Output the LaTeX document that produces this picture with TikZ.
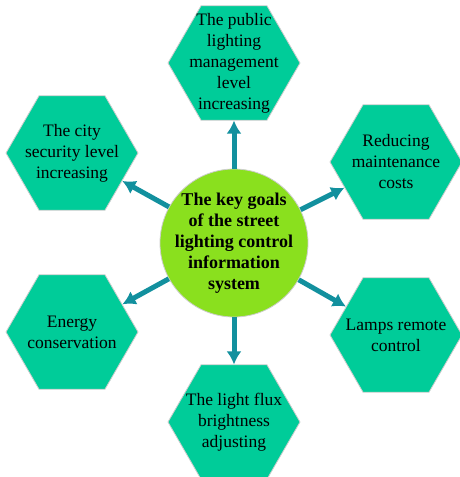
\documentclass[tikz,border=0pt]{standalone}
\usepackage{fontspec}
\setmainfont{Liberation Serif}
\usetikzlibrary{shapes.geometric,arrows.meta}
\definecolor{hexgreen}{RGB}{0,204,153}
\definecolor{keylime}{RGB}{138,224,30}
\definecolor{arrteal}{RGB}{18,144,158}
\definecolor{edgegray}{RGB}{205,205,205}

\begin{document}
\begin{tikzpicture}[x=1pt,y=-1pt,
	goal/.style={regular polygon, regular polygon sides=6, minimum size=132pt,
		inner sep=0pt, fill=hexgreen, draw=edgegray, line width=0.8pt},
	goaltext/.style={align=center, font=\fontsize{17.5}{21}\selectfont},
	link/.style={draw=arrteal, line width=5pt, -{Latex[width=15pt,length=13pt]}}]
\useasboundingbox (0,0) rectangle (459,477);

\path (234,243) node[circle, minimum size=148pt, inner sep=0pt, fill=keylime,
	draw=edgegray, line width=0.8pt] (key) {};
\path (234,243) node[goaltext, font=\fontsize{18}{21}\selectfont\bfseries] (keytxt)
	{The key goals\\of the street\\lighting control\\information\\system};

\foreach \nm/\x/\y/\txt in {
	public/234/63/{The public\\lighting\\management\\level\\increasing},
	security/72/153/{The city\\security level\\increasing},
	energy/72/332/{Energy\\conservation},
	flux/234/422/{The light flux\\brightness\\adjusting},
	costs/396/162/{Reducing\\maintenance\\costs},
	lamps/396/335/{Lamps remote\\control}}
{
	\path (\x,\y) node[goal] (\nm) {} node[goaltext] {\txt};
	\draw [link] (key) -- (\nm);
}

\end{tikzpicture}
\end{document}
